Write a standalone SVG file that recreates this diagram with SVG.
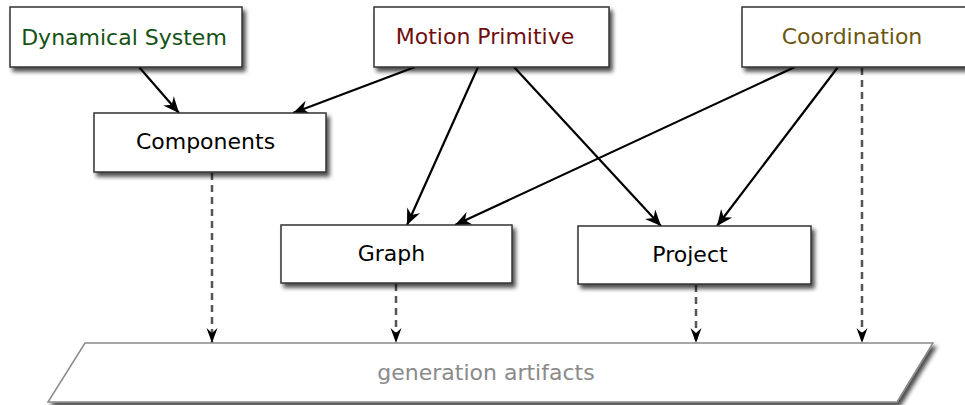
<svg xmlns="http://www.w3.org/2000/svg" width="965" height="405" viewBox="0 0 965 405">
<style>
.box{fill:#fff;stroke:#333;stroke-width:1.5;filter:url(#sh)}
.para{fill:#fff;stroke:#8a8a8a;stroke-width:1.5;filter:url(#sh)}
text{font-family:"DejaVu Sans",Verdana,sans-serif;font-size:22px;text-anchor:middle}
.solid{stroke:#000;stroke-width:2.2;fill:none;marker-end:url(#ah)}
.dash{stroke:#555;stroke-width:2.5;fill:none;stroke-dasharray:7,5;marker-end:url(#dh)}
</style>
<defs>
<filter id="sh" x="-10%" y="-20%" width="125%" height="150%">
<feDropShadow dx="3" dy="4" stdDeviation="2.2" flood-color="#000" flood-opacity="0.7"/>
</filter>
<marker id="ah" markerUnits="userSpaceOnUse" markerWidth="20" markerHeight="20" viewBox="-18 -9 20 18" refX="0" refY="0" orient="auto">
<path d="M0,0 L-16,-7 L-11,0 L-16,7 Z" fill="#000"/>
</marker>
<marker id="dh" markerUnits="userSpaceOnUse" markerWidth="20" markerHeight="20" viewBox="-18 -9 20 18" refX="0" refY="0" orient="auto">
<path d="M0,0 L-15,-5.5 L-10,0 L-15,5.5 Z" fill="#000"/>
</marker>
</defs>
<g id="connectors">
<line class="solid" x1="139" y1="67" x2="179" y2="113"/>
<line class="solid" x1="415" y1="67" x2="293" y2="113"/>
<line class="solid" x1="478" y1="67" x2="407" y2="225"/>
<line class="solid" x1="514" y1="67" x2="661" y2="226"/>
<line class="solid" x1="795" y1="67" x2="455" y2="225"/>
<line class="solid" x1="838" y1="67" x2="717" y2="226"/>
<line class="dash" x1="862" y1="68" x2="862" y2="343"/>
<line class="dash" x1="212" y1="173" x2="212" y2="343"/>
<line class="dash" x1="396" y1="284" x2="396" y2="343"/>
<line class="dash" x1="696" y1="285" x2="696" y2="343"/>
</g>
<g id="artifacts">
<path class="para" d="M85,343 L933,343 L897,402 L48,402 Z"/>
<text x="486" y="380" fill="#8a8a8a">generation artifacts</text>
</g>
<g id="dynamical-system">
<rect class="box" x="10" y="7" width="232" height="60"/>
<text x="124" y="45" fill="#145214">Dynamical System</text>
</g>
<g id="motion-primitive">
<rect class="box" x="374" y="7" width="235" height="60"/>
<text x="485" y="44" fill="#6e0f0f">Motion Primitive</text>
</g>
<g id="coordination">
<rect class="box" x="742" y="7" width="232" height="60"/>
<text x="852" y="44" fill="#6b5611">Coordination</text>
</g>
<g id="components">
<rect class="box" x="94" y="113" width="232" height="59"/>
<text x="205.5" y="149" fill="#000">Components</text>
</g>
<g id="graph">
<rect class="box" x="281" y="225" width="231" height="58"/>
<text x="391.5" y="261" fill="#000">Graph</text>
</g>
<g id="project">
<rect class="box" x="578" y="226" width="233" height="58"/>
<text x="690" y="262" fill="#000">Project</text>
</g>
</svg>
